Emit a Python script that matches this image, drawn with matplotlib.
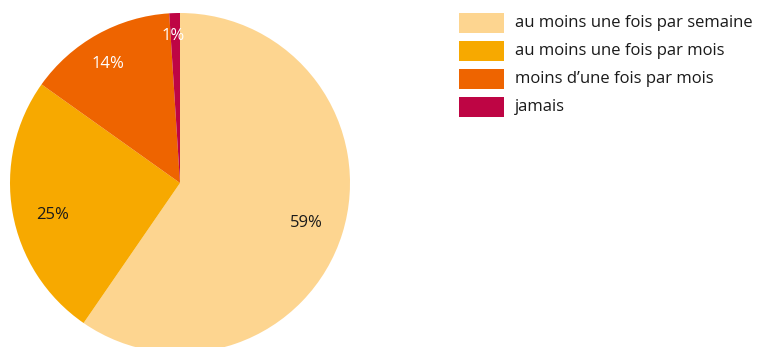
import numpy as np
import matplotlib
matplotlib.use("Agg")
import matplotlib.pyplot as plt
from matplotlib.patches import Rectangle

plt.rcParams['font.family'] = ['Open Sans', 'DejaVu Sans']

categories = ["au moins une fois par semaine", "au moins une fois par mois",
              "moins d\u2019une fois par mois", "jamais"]
values = [59, 25, 14, 1]
colors = ["#FDD590", "#F7A900", "#EE6400", "#BE0544"]
label_colors = ["#1a1a1a", "#1a1a1a", "white", "white"]
label_radius = [0.78, 0.77, 0.82, 0.865]
label_shift_deg = [-0.5, 4.0, 2.0, 1.0]

W, H = 760, 347
fig = plt.figure(figsize=(W / 100, H / 100), dpi=100)

# pie axes: centre (180, 183) px from top-left, radius 170 px
cx, cy, r = 180, 183, 170
ax = fig.add_axes([(cx - r) / W, (H - cy - r) / H, 2 * r / W, 2 * r / H])
wedges, _ = ax.pie(values, colors=colors, startangle=90, counterclock=False,
                   radius=1, wedgeprops=dict(linewidth=0))
ax.set_xlim(-1, 1)
ax.set_ylim(-1, 1)
ax.set_aspect('auto')
ax.axis('off')
for w in wedges:
    w.set_clip_on(False)

for w, v, c, d, s in zip(wedges, values, label_colors, label_radius, label_shift_deg):
    ang = np.deg2rad((w.theta1 + w.theta2) / 2 + s)
    ax.text(d * np.cos(ang), d * np.sin(ang), f"{v}%", ha='center', va='center',
            fontsize=12, color=c)

# legend
box_x, box_w, box_h = 459, 45, 20
row_top0, row_step = 13, 28
for i, (cat, col) in enumerate(zip(categories, colors)):
    top = row_top0 + i * row_step
    fig.patches.append(Rectangle((box_x / W, (H - top - box_h) / H), box_w / W, box_h / H,
                                 transform=fig.transFigure, facecolor=col, edgecolor='none'))
    fig.text(515 / W, (H - top - box_h / 2) / H, cat, ha='left', va='center',
             fontsize=12, color="#1a1a1a")

fig.savefig("out.png", dpi=100)
